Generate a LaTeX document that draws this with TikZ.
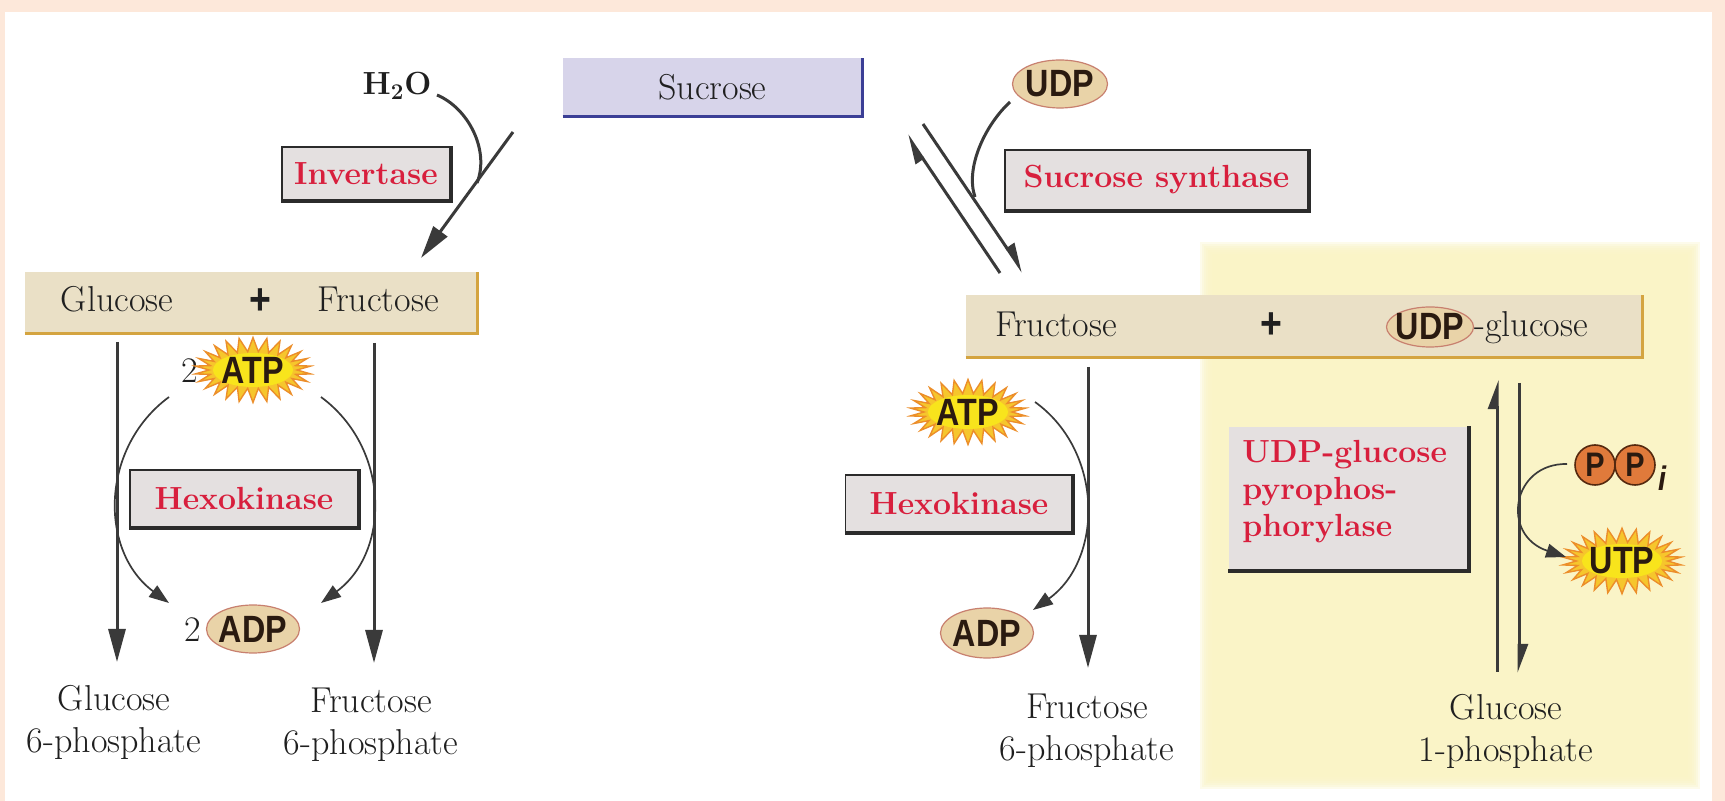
\documentclass[tikz,border=0pt]{standalone}
\usepackage{fontspec}
\usetikzlibrary{arrows.meta,shapes.geometric,shapes.symbols}
\newfontfamily\nucfont{Liberation Sans}[FakeStretch=0.85]

\definecolor{peach}{HTML}{FDE8DA}
\definecolor{paleyellow}{HTML}{FAF4C6}
\definecolor{boxgray}{HTML}{E4E0E0}
\definecolor{boxline}{HTML}{2B2B2B}
\definecolor{enzred}{HTML}{D81F3D}
\definecolor{barfill}{HTML}{EAE0C6}
\definecolor{bargold}{HTML}{D4A440}
\definecolor{sucfill}{HTML}{D7D4EA}
\definecolor{sucline}{HTML}{3B3F96}
\definecolor{arrowgray}{HTML}{3A3A3A}
\definecolor{inkcol}{HTML}{1F1F1F}
\definecolor{udpfill}{HTML}{E9D3A8}
\definecolor{udpline}{HTML}{C8806F}
\definecolor{nucink}{HTML}{2A1A10}
\definecolor{burstyellow}{HTML}{F8E41C}
\definecolor{burstspike}{HTML}{F6C62C}
\definecolor{burstorange}{HTML}{EC8E2A}
\definecolor{ppfill}{HTML}{E07A3B}
\definecolor{ppline}{HTML}{55290F}

% heavy edge along the bottom and right side of a box
\newcommand\shadeedge[3]{\draw[#2, line width=#3] (#1.south west) -- (#1.south east) -- (#1.north east);}

\begin{document}
\begin{tikzpicture}[x=0.5pt, y=-0.5pt,
  every node/.style={inner sep=0pt, text=inkcol, font=\fontsize{18}{21}\selectfont},
  enzbox/.style={rectangle, draw=boxline, line width=0.7pt, fill=boxgray, text=enzred,
    font=\fontsize{16}{18.5}\selectfont\bfseries},
  barbox/.style={rectangle, fill=barfill},
  sucbox/.style={rectangle, fill=sucfill},
  nucl/.style={ellipse, inner xsep=-2pt, fill=udpfill, draw=udpline, line width=0.6pt,
    text=nucink, font=\nucfont\bfseries\fontsize{19}{22}\selectfont},
  burst/.style={starburst, random starburst=0, starburst points=26, starburst point height=7pt,
    fill=burstspike, draw=burstorange, line width=0.7pt, text=nucink,
    font=\nucfont\bfseries\fontsize{19}{22}\selectfont,
    path picture={\fill[burstyellow] (path picture bounding box.center) ellipse [x radius=20pt, y radius=8.5pt];}},
  pcirc/.style={circle, minimum size=20pt, fill=ppfill, draw=ppline, line width=0.8pt,
    text=nucink, font=\nucfont\bfseries\fontsize{17}{20}\selectfont},
  plus/.style={font=\nucfont\bfseries\fontsize{22}{24}\selectfont},
  mainarrow/.style={draw=arrowgray, line width=1.5pt, -{Triangle[length=16.5pt,width=8.5pt]}},
  curvearrow/.style={draw=arrowgray, line width=0.85pt, -{Triangle[length=10pt,width=7pt]}},
  harpoon/.style={draw=arrowgray, line width=1.5pt, -{Triangle[left,length=12.5pt,width=9pt]}},
  feed/.style={draw=arrowgray, line width=1.5pt}]

% page background and frame
\fill[white] (0,0) rectangle (1725,801);
\fill[peach] (0,0) rectangle (1725,12);
\fill[peach] (0,0) rectangle (5,801);
\fill[peach] (1712,0) rectangle (1725,801);
% shaded panel behind the UDP-glucose pyrophosphorylase step
\foreach \k in {0,...,6}
  \fill[paleyellow, opacity=0.35] ({1200+2*\k},{242+2*\k}) rectangle ({1700-2*\k},{789-2*\k});
\useasboundingbox (0,0) rectangle (1725,801);

% ---------- sucrose ----------
\node[sucbox, minimum width=149.5pt, minimum height=29pt] (sucrose) at (712.5,87) {Sucrose};
\shadeedge{sucrose}{sucline}{1.5pt}

% ---------- invertase branch ----------
\node[font=\fontsize{16}{20}\selectfont\bfseries] (water) at (397,86) {H\textsubscript{2}O};
\node[enzbox, minimum width=84pt, minimum height=26.5pt] (invertase) at (366,173.5) {Invertase};
\shadeedge{invertase}{boxline}{2pt}

\node[barbox, minimum width=226pt, minimum height=30.5pt] (hexoses) at (251,302.5) {};
\shadeedge{hexoses}{bargold}{1.5pt}
\node[anchor=base] (glc) at (117,312) {Glucose};
\node[plus] (plusL) at (260,302) {+};
\node[anchor=base] (fru) at (378,312) {Fructose};

\coordinate (invTail) at (513,132);
\coordinate (invTip) at (421,258);
\coordinate (waterTail) at (437,95);
\coordinate (waterJoin) at (477,183);
\draw[mainarrow] (invTail) -- (invTip);
\draw[feed] (waterTail) .. controls (468,108) and (490,150) .. (waterJoin);

% hexokinase on glucose and fructose
\node (twoATP) at (190,371) {2};
\node[burst, minimum width=54pt, minimum height=31.5pt] (atpL) at (253,370) {ATP};
\node[enzbox, minimum width=114pt, minimum height=28.5pt] (hexL) at (244,498.5) {Hexokinase};
\shadeedge{hexL}{boxline}{2pt}
\node (twoADP) at (193,630) {2};
\node[nucl, minimum width=46.5pt, minimum height=24pt] (adpL) at (253,629) {ADP};

\node[align=center] (g6p) at (114,722.5) {Glucose\\6-phosphate};
\node[align=center] (f6pL) at (371,725) {Fructose\\6-phosphate};

\coordinate (glcOut) at (117,342);
\coordinate (glcIn) at (117,662);
\coordinate (fruOut) at (374,343);
\coordinate (fruIn) at (374,663);
\draw[mainarrow] (glcOut) -- (glcIn);
\draw[mainarrow] (fruOut) -- (fruIn);

\coordinate (atpLa) at (169,397);
\coordinate (adpLa) at (169,603);
\coordinate (atpLb) at (321,397);
\coordinate (adpLb) at (321,603);
\draw[curvearrow] (atpLa) .. controls (99.5,448.3) and (99.5,551.7) .. (adpLa);
\draw[curvearrow] (atpLb) .. controls (390.5,448.3) and (390.5,551.7) .. (adpLb);

% ---------- sucrose synthase branch ----------
\node[nucl, minimum width=47.5pt, minimum height=24pt] (udpTop) at (1060,84) {UDP};
\node[enzbox, minimum width=151.5pt, minimum height=30pt] (sucsyn) at (1156.5,180) {Sucrose synthase};
\shadeedge{sucsyn}{boxline}{2pt}

\coordinate (revTail) at (1000,273);
\coordinate (revHead) at (907,135);
\coordinate (fwdTail) at (923,124);
\coordinate (fwdHead) at (1023,272);
\draw[harpoon] (revTail) -- (revHead);
\draw[harpoon] (fwdTail) -- (fwdHead);
\coordinate (udpTail) at (1010,102);
\coordinate (udpJoin) at (975,197);
\draw[feed] (udpTail) .. controls (985,125) and (965,168) .. (udpJoin);

\node[barbox, minimum width=338pt, minimum height=31pt] (products) at (1304,326) {};
\shadeedge{products}{bargold}{1.5pt}
\node[anchor=base] (fruR) at (1056,337) {Fructose};
\node[plus] (plusR) at (1271,326) {+};
\node[nucl, minimum width=43.5pt, minimum height=20pt] (udpGlc) at (1430,327) {UDP};
\node[anchor=base west] (glcPart) at (1474,337) {-glucose};

% hexokinase on fructose
\node[burst, minimum width=54pt, minimum height=31.5pt] (atpR) at (968,412) {ATP};
\node[enzbox, minimum width=113.5pt, minimum height=28.5pt] (hexR) at (959,503.5) {Hexokinase};
\shadeedge{hexR}{boxline}{2pt}
\node[nucl, minimum width=46.5pt, minimum height=25pt] (adpR) at (987,633) {ADP};
\node[align=center] (f6pR) at (1087,731) {Fructose\\6-phosphate};

\coordinate (fruROut) at (1088,367);
\coordinate (fruRIn) at (1088,668);
\draw[mainarrow] (fruROut) -- (fruRIn);
\coordinate (atpRa) at (1035,402);
\coordinate (adpRa) at (1033,610);
\draw[curvearrow] (atpRa) .. controls (1104.6,452.2) and (1102.9,560) .. (adpRa);

% UDP-glucose pyrophosphorylase
\node[enzbox, draw=none, minimum width=119.5pt, minimum height=71.5pt] (ugpase) at (1348.5,498.5) {};
\shadeedge{ugpase}{boxline}{2pt}
\node[anchor=north west, align=left, text=enzred, font=\fontsize{16}{18.5}\selectfont\bfseries]
  (ugpname) at (1242,440) {UDP-glucose\\pyrophos-\\phorylase};

\coordinate (ugTail) at (1497,672);
\coordinate (ugHead) at (1497,380);
\coordinate (g1Tail) at (1519,383);
\coordinate (g1Head) at (1519,673);
\draw[harpoon] (ugTail) -- (ugHead);
\draw[harpoon] (g1Tail) -- (g1Head);

\node[pcirc] (pA) at (1595,465) {P};
\node[pcirc] (pB) at (1635,465) {P};
\node[text=nucink, font=\nucfont\bfseries\itshape\fontsize{17}{20}\selectfont] (pisub) at (1662,478) {i};
\node[burst, minimum width=52.5pt, minimum height=31pt] (utp) at (1622,561) {UTP};

\coordinate (ppTail) at (1567,464);
\coordinate (utpIn) at (1566,557);
\draw[curvearrow] (ppTail) .. controls (1512,463) and (1500,535) .. (utpIn);

\node[align=center] (g1p) at (1506,731) {Glucose\\1-phosphate};
\end{tikzpicture}
\end{document}
